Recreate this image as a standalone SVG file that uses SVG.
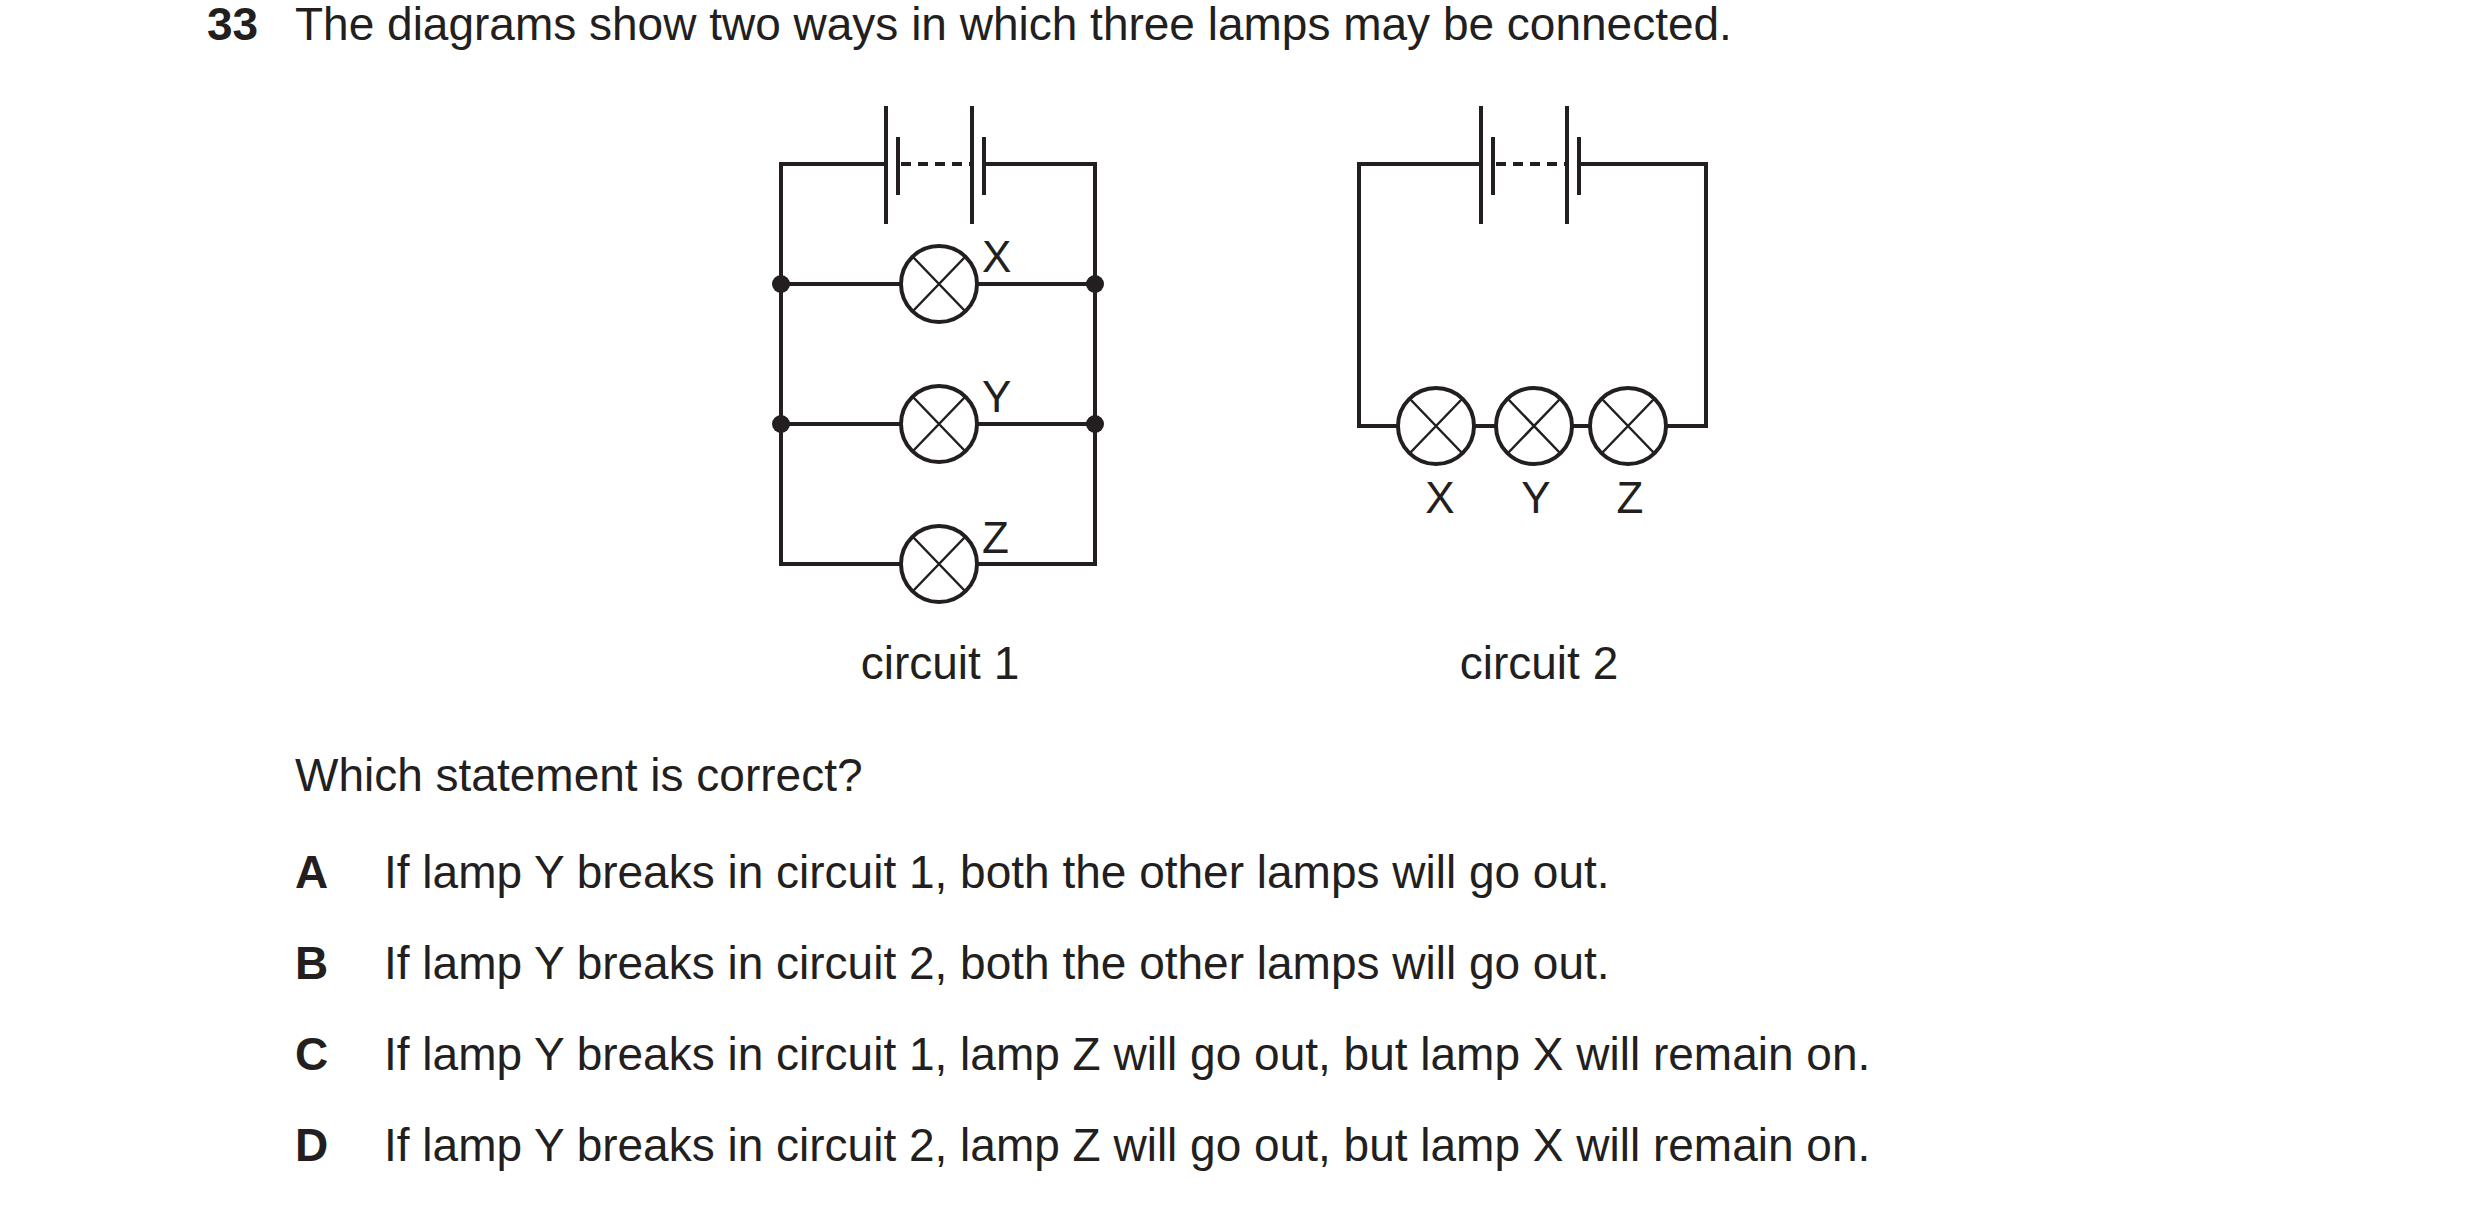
<svg xmlns="http://www.w3.org/2000/svg" width="2480" height="1209" viewBox="0 0 2480 1209">
<style>
text{font-family:"Liberation Sans",Arial,sans-serif;fill:#231f20}
.t{font-size:46px}
.b{font-size:46px;font-weight:bold}
.l{font-size:44px}
.w{stroke:#231f20;stroke-width:4;fill:none}
.lamp{stroke:#231f20;stroke-width:4;fill:#fff}
.x{stroke:#231f20;stroke-width:2.5}
</style>
<defs>
<g id="lampSym"><circle r="38" class="lamp"/><path class="x" d="M-26,-27L26,27M26,-27L-26,27"/></g>
<g id="bat">
<path class="w" d="M0,-58V60M12,-27V31M86,-58V60M98,-27V31"/>
<path class="w" d="M15,0H84" stroke-dasharray="10,7" stroke-width="4.5"/>
</g>
</defs>
<rect width="2480" height="1209" fill="#fff"/>
<text class="b" x="207" y="40">33</text>
<text class="t" x="295" y="40">The diagrams show two ways in which three lamps may be connected.</text>
<g id="connectors">
<path class="w" d="M886,164H781V564H902M976,564H1095V164H984"/>
<path class="w" d="M781,284H902M976,284H1095M781,424H902M976,424H1095"/>
<path class="w" d="M1481,164H1359V426H1398M1474,426H1496M1572,426H1590M1666,426H1706V164H1579"/>
</g>
<g id="circuit1">
<use href="#bat" x="886" y="164"/>
<use href="#lampSym" x="939" y="284"/>
<use href="#lampSym" x="939" y="424"/>
<use href="#lampSym" x="939" y="564"/>
<circle cx="781" cy="284" r="9" fill="#231f20"/><circle cx="1095" cy="284" r="9" fill="#231f20"/>
<circle cx="781" cy="424" r="9" fill="#231f20"/><circle cx="1095" cy="424" r="9" fill="#231f20"/>
<text class="l" x="982" y="272">X</text>
<text class="l" x="982" y="412">Y</text>
<text class="l" x="982" y="553">Z</text>
<text class="t" x="940" y="679" text-anchor="middle">circuit 1</text>
</g>
<g id="circuit2">
<use href="#bat" x="1481" y="164"/>
<use href="#lampSym" x="1436" y="426"/>
<use href="#lampSym" x="1534" y="426"/>
<use href="#lampSym" x="1628" y="426"/>
<text class="l" x="1440" y="513" text-anchor="middle">X</text>
<text class="l" x="1536" y="513" text-anchor="middle">Y</text>
<text class="l" x="1630" y="513" text-anchor="middle">Z</text>
<text class="t" x="1539" y="679" text-anchor="middle">circuit 2</text>
</g>
<text class="t" x="295" y="791">Which statement is correct?</text>
<text class="b" x="295" y="888">A</text><text class="t" x="384" y="888">If lamp Y breaks in circuit 1, both the other lamps will go out.</text>
<text class="b" x="295" y="979">B</text><text class="t" x="384" y="979">If lamp Y breaks in circuit 2, both the other lamps will go out.</text>
<text class="b" x="295" y="1070">C</text><text class="t" x="384" y="1070">If lamp Y breaks in circuit 1, lamp Z will go out, but lamp X will remain on.</text>
<text class="b" x="295" y="1161">D</text><text class="t" x="384" y="1161">If lamp Y breaks in circuit 2, lamp Z will go out, but lamp X will remain on.</text>
</svg>
